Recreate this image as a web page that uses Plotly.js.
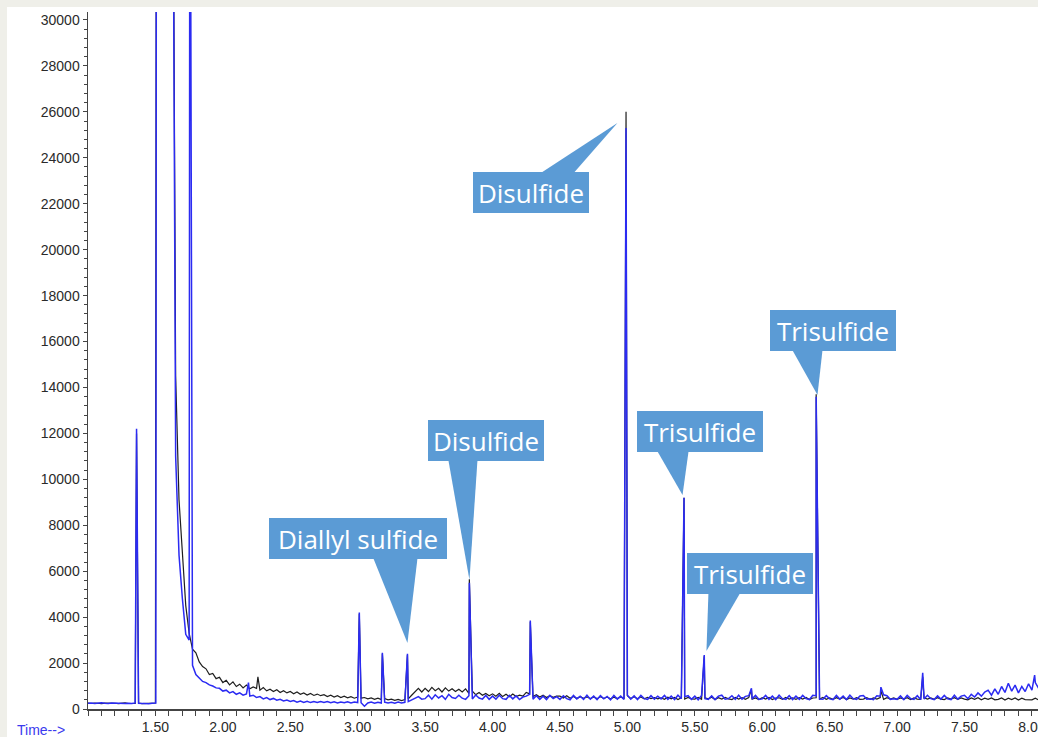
<!DOCTYPE html>
<html>
<head>
<meta charset="utf-8">
<script src="https://cdn.plot.ly/plotly-3.0.1.min.js"></script>
<style>
  html, body { margin: 0; padding: 0; background: #efefe9; width: 1038px; height: 737px; overflow: hidden; }
  #chart { position: absolute; left: 7px; top: 7px; width: 1031px; height: 730px; background: #ffffff; }
</style>
</head>
<body>
<div id="chart"></div>
<script>
// ---- sampled retention times (min) ----
const sampleTime = [
  1,1.025,1.05,1.075,1.1,1.125,1.15,1.175,1.2,1.225,
  1.25,1.275,1.3,1.325,1.35,1.375,1.4,1.425,1.45,1.475,
  1.5,1.525,1.55,1.575,1.6,1.625,1.65,1.675,1.7,1.725,
  1.75,1.775,1.8,1.825,1.85,1.875,1.9,1.925,1.95,1.975,
  2,2.025,2.05,2.075,2.1,2.125,2.15,2.175,2.2,2.225,
  2.25,2.275,2.3,2.325,2.35,2.375,2.4,2.425,2.45,2.475,
  2.5,2.525,2.55,2.575,2.6,2.625,2.65,2.675,2.7,2.725,
  2.75,2.775,2.8,2.825,2.85,2.875,2.9,2.925,2.95,2.975,
  3,3.025,3.05,3.075,3.1,3.125,3.15,3.175,3.2,3.225,
  3.25,3.275,3.3,3.325,3.35,3.375,3.4,3.425,3.45,3.475,
  3.5,3.525,3.55,3.575,3.6,3.625,3.65,3.675,3.7,3.725,
  3.75,3.775,3.8,3.825,3.85,3.875,3.9,3.925,3.95,3.975,
  4,4.025,4.05,4.075,4.1,4.125,4.15,4.175,4.2,4.225,
  4.25,4.275,4.3,4.325,4.35,4.375,4.4,4.425,4.45,4.475,
  4.5,4.525,4.55,4.575,4.6,4.625,4.65,4.675,4.7,4.725,
  4.75,4.775,4.8,4.825,4.85,4.875,4.9,4.925,4.95,4.975,
  5,5.025,5.05,5.075,5.1,5.125,5.15,5.175,5.2,5.225,
  5.25,5.275,5.3,5.325,5.35,5.375,5.4,5.425,5.45,5.475,
  5.5,5.525,5.55,5.575,5.6,5.625,5.65,5.675,5.7,5.725,
  5.75,5.775,5.8,5.825,5.85,5.875,5.9,5.925,5.95,5.975,
  6,6.025,6.05,6.075,6.1,6.125,6.15,6.175,6.2,6.225,
  6.25,6.275,6.3,6.325,6.35,6.375,6.4,6.425,6.45,6.475,
  6.5,6.525,6.55,6.575,6.6,6.625,6.65,6.675,6.7,6.725,
  6.75,6.775,6.8,6.825,6.85,6.875,6.9,6.925,6.95,6.975,
  7,7.025,7.05,7.075,7.1,7.125,7.15,7.175,7.2,7.225,
  7.25,7.275,7.3,7.325,7.35,7.375,7.4,7.425,7.45,7.475,
  7.5,7.525,7.55,7.575,7.6,7.625,7.65,7.675,7.7,7.725,
  7.75,7.775,7.8,7.825,7.85,7.875,7.9,7.925,7.95,7.975,
  8,8.025,8.05
];

// ---- baseline abundance, black run ----
const blackBaseline = [
  255,240,262,248,236,258,265,244,250,238,
  252,266,240,256,245,262,238,250,246,258,
  260,45000,45000,45000,45000,45000,14500,9100,6800,4500,
  3300,2600,2450,2050,1850,1750,1500,1550,1320,1380,
  1150,1250,1050,1180,980,1080,920,1040,880,960,
  900,820,930,790,860,760,840,720,800,700,
  760,660,740,640,700,610,680,590,650,580,
  620,540,600,520,580,500,560,490,540,470,
  520,470,500,440,480,420,470,410,450,400,
  430,380,420,370,410,440,600,760,900,740,
  900,760,940,800,900,740,920,780,880,760,
  860,740,880,680,780,620,720,600,680,580,
  660,560,680,540,640,530,650,540,600,560,
  720,660,540,620,520,600,500,580,510,560,
  560,480,580,470,550,460,540,470,530,450,
  520,450,530,460,520,440,510,450,520,460,
  580,460,530,450,520,440,510,450,500,440,
  480,420,510,440,500,410,490,430,500,440,
  430,500,420,490,440,510,410,490,430,500,
  440,410,500,430,490,420,500,430,480,410,
  490,430,500,410,480,490,420,500,430,480,
  420,490,430,500,410,480,490,430,500,420,
  480,420,490,430,500,410,480,430,490,420,
  430,490,420,480,430,500,420,490,430,480,
  420,480,430,490,410,480,430,420,490,430,
  480,420,490,430,410,480,430,490,420,480,
  430,400,480,420,490,400,470,420,480,400,
  420,480,390,470,410,480,390,470,410,420,
  400,470,390
];

// ---- baseline abundance, blue run ----
const blueBaseline = [
  245,262,238,255,270,248,236,258,251,242,
  260,244,253,238,266,249,240,257,232,255,
  250,45000,45000,45000,45000,45000,11000,6700,4800,3250,
  3000,1900,1500,1350,1200,1150,1050,1000,920,900,
  780,820,700,760,640,700,600,660,560,600,
  500,540,440,500,410,460,380,420,350,390,
  330,370,300,350,290,340,280,330,280,320,
  280,320,270,310,260,300,270,310,260,300,
  280,270,120,260,300,250,290,260,300,260,
  290,250,300,260,290,320,400,480,540,430,
  450,600,430,620,480,580,420,640,500,460,
  600,470,420,580,440,610,480,430,590,420,
  560,430,600,450,420,590,440,570,410,520,
  560,640,430,580,420,560,410,590,450,540,
  420,580,450,400,590,440,560,420,600,430,
  560,410,580,440,550,400,590,430,560,420,
  600,430,570,410,590,450,420,580,430,560,
  440,590,420,560,410,600,450,540,580,420,
  560,400,590,450,420,570,410,560,600,430,
  450,580,420,600,430,550,580,440,590,420,
  440,590,420,560,410,600,450,420,580,410,
  560,420,590,450,410,600,580,430,420,580,
  440,410,590,430,560,410,600,450,420,570,
  590,430,450,410,580,560,620,580,420,450,
  420,570,410,590,450,420,580,410,440,600,
  450,410,570,430,590,440,410,600,430,560,
  600,450,640,520,700,560,740,820,600,880,
  640,980,720,1120,780,1040,700,980,760,1100,
  820,1150,900
];

// ---- peak apexes (retention time, abundance) ----
const blackPeakTime  = [1.36, 1.508, 2.26, 3.012, 3.183, 3.369, 3.828, 4.28, 4.99, 5.42, 5.57, 5.92, 6.40, 6.88, 7.19];
const blackPeakValue = [12000, 45000, 1400, 4150, 2400, 2350, 5650, 3800, 26000, 9200, 2300, 850, 13700, 800, 1400];

const bluePeakTime  = [1.36, 1.503, 1.508, 1.756, 2.19, 3.012, 3.183, 3.369, 3.828, 4.28, 4.99, 5.42, 5.57, 5.92, 6.40, 6.88, 7.19, 8.02];
const bluePeakValue = [12200, 260, 45000, 45000, 1150, 4200, 2450, 2400, 5500, 3850, 25300, 9200, 2350, 900, 13600, 950, 1580, 1480];

// ---- compound labels ----
const labelText = ['Disulfide', 'Disulfide', 'Diallyl sulfide', 'Trisulfide', 'Trisulfide', 'Trisulfide'];
const labelPeakTime = [4.99, 3.828, 3.369, 5.42, 6.40, 5.57];
const labelPeakValue = [26000, 5500, 2400, 9200, 13600, 2350];

// ---- axis ticks ----
const xTickVals = [1.5, 2.0, 2.5, 3.0, 3.5, 4.0, 4.5, 5.0, 5.5, 6.0, 6.5, 7.0, 7.5, 8.0];
const xTickText = ['1.50','2.00','2.50','3.00','3.50','4.00','4.50','5.00','5.50','6.00','6.50','7.00','7.50','8.00'];

function mergeSeries(times, base, pTimes, pVals) {
  const pts = times.map((t, i) => [t, base[i]]);
  pTimes.forEach((t, i) => pts.push([t, pVals[i]]));
  pts.sort((a, b) => a[0] - b[0]);
  return { x: pts.map(p => p[0]), y: pts.map(p => p[1]) };
}

const blackData = mergeSeries(sampleTime, blackBaseline, blackPeakTime, blackPeakValue);
const blueData = mergeSeries(sampleTime, blueBaseline, bluePeakTime, bluePeakValue);

const traces = [
  { type: 'scatter', mode: 'lines', x: blackData.x, y: blackData.y,
    line: { color: '#1e1e1e', width: 1.2 }, hoverinfo: 'skip', showlegend: false },
  { type: 'scatter', mode: 'lines', x: blueData.x, y: blueData.y,
    line: { color: '#2b2bf2', width: 1.5 }, hoverinfo: 'skip', showlegend: false }
];

// callout geometry in pixels relative to the labelled peak apex (dx right, dy down)
const calloutStyle = [
  { box: [-94.6, 80.6], w: 116, tri: [[-85.6, 61.5], [-52.6, 61.5], [-8.6, 11.1]] },
  { box: [17.1, -142.2], w: 116, tri: [[-20.9, -122.3], [8.1, -122.3], [0.1, -2.7]] },
  { box: [-49, -114.9], w: 178, tri: [[-34, -95.5], [10, -95.5], [0, -10.9]] },
  { box: [15.5, -66.2], w: 126, tri: [[-26.5, -46.3], [4.5, -46.3], [-1.5, -2.7]] },
  { box: [16.8, -66.2], w: 126, tri: [[-23.7, -46.3], [6.3, -46.3], [1.3, -1.7]] },
  { box: [46.2, -82], w: 126, tri: [[4.2, -62.6], [36.2, -62.6], [2.2, -4]] }
];

const calloutColor = '#5b9bd5';
const shapes = [];
const annotations = [];
labelText.forEach((txt, i) => {
  const st = calloutStyle[i];
  const p = st.tri.map(q => q[0] + ' ' + (-q[1]));
  shapes.push({
    type: 'path', xref: 'x', yref: 'y', xsizemode: 'pixel', ysizemode: 'pixel',
    xanchor: labelPeakTime[i], yanchor: labelPeakValue[i],
    path: 'M ' + p[0] + ' L ' + p[1] + ' L ' + p[2] + ' Z',
    fillcolor: calloutColor, line: { width: 0 }, layer: 'above'
  });
  annotations.push({
    x: labelPeakTime[i], y: labelPeakValue[i], xref: 'x', yref: 'y',
    text: txt, showarrow: false, xanchor: 'center', yanchor: 'middle',
    xshift: st.box[0], yshift: -st.box[1],
    width: st.w, height: 41, borderpad: 0, borderwidth: 0,
    bgcolor: calloutColor, align: 'center', valign: 'middle',
    font: { family: 'Open Sans, Noto Sans, sans-serif', size: 26, color: '#ffffff' }
  });
});

annotations.push({
  xref: 'paper', yref: 'paper', x: -0.0768, y: -0.030, xanchor: 'left', yanchor: 'middle',
  text: 'Time-->', showarrow: false,
  font: { family: 'Liberation Sans, Arial, sans-serif', size: 14, color: '#3a3aee' }
});

const tickFont = { family: 'Liberation Sans, Arial, sans-serif', size: 14, color: '#2a2a2a' };

const layout = {
  width: 1031, height: 730,
  margin: { l: 81, r: 0, t: 5, b: 28, pad: 0 },
  paper_bgcolor: '#ffffff', plot_bgcolor: '#ffffff',
  showlegend: false, hovermode: false,
  xaxis: {
    range: [1.0, 8.045], tickmode: 'array', tickvals: xTickVals, ticktext: xTickText,
    ticklabeloverflow: 'allow',
    ticks: 'outside', ticklen: 5, tickwidth: 1, tickcolor: '#444444',
    showline: true, linecolor: '#444444', linewidth: 1.5,
    showgrid: false, zeroline: false, tickfont: tickFont,
    minor: { tickmode: 'linear', tick0: 1.0, dtick: 0.1, ticks: 'outside', ticklen: 5, tickwidth: 1, tickcolor: '#444444', showgrid: false }
  },
  yaxis: {
    range: [0, 30348], tickmode: 'linear', tick0: 0, dtick: 2000, tickformat: 'd',
    ticks: 'outside', ticklen: 4, tickwidth: 1, tickcolor: '#444444',
    showline: true, linecolor: '#444444', linewidth: 1.5,
    showgrid: false, zeroline: false, tickfont: tickFont,
    minor: { tickmode: 'linear', tick0: 0, dtick: 400, ticks: 'outside', ticklen: 3, tickwidth: 1, tickcolor: '#444444', showgrid: false }
  },
  shapes: shapes,
  annotations: annotations
};

Plotly.newPlot('chart', traces, layout, { displayModeBar: false, staticPlot: true });
</script>
</body>
</html>
